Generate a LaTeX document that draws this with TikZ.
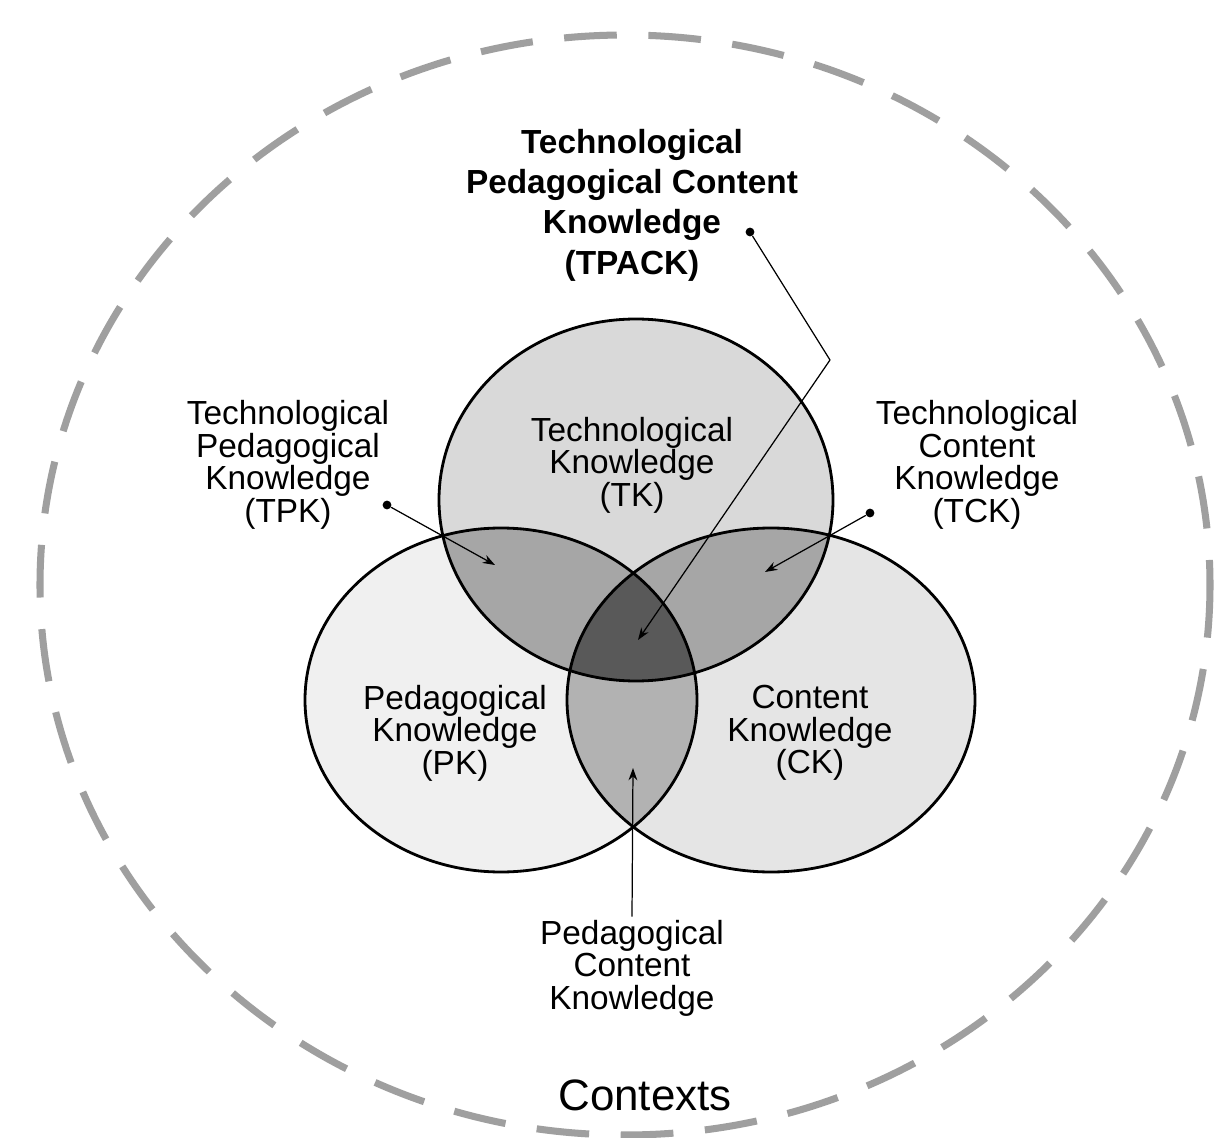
\documentclass[tikz,border=0pt]{standalone}
\usepackage{fontspec}
\setmainfont{Liberation Sans}
\usetikzlibrary{arrows.meta}
\begin{document}
\begin{tikzpicture}[x=0.02cm,y=-0.02cm,
 lbl/.style={align=center,font=\fontsize{19}{18.5}\selectfont,inner sep=0pt},
 ring/.style={draw=black,line width=1.6pt},
 lead/.style={line width=0.7pt,-{Stealth[length=7pt,width=5pt]}},
 dot/.style={circle,fill=black,inner sep=0pt,minimum size=5pt}]
\useasboundingbox (0,0) rectangle (1214,1138);
\fill[white] (0,0) rectangle (1214,1138);
\draw[gray!75,line width=4pt,dash pattern=on 30pt off 18pt] (625,585) ellipse [x radius=585, y radius=550];
\def\TK{(636,500) ellipse [x radius=197, y radius=181]}
\def\PK{(501,700) ellipse [x radius=196, y radius=172]}
\def\CK{(771,700) ellipse [x radius=204, y radius=172]}
\fill[black!15] \TK;
\fill[black!6] \PK;
\fill[black!10] \CK;
\begin{scope}\clip \TK; \fill[black!35] \PK; \fill[black!35] \CK; \end{scope}
\begin{scope}\clip \PK; \fill[black!30] \CK; \end{scope}
\begin{scope}\clip \TK; \clip \PK; \fill[black!65] \CK; \end{scope}
\draw[ring] \TK; \draw[ring] \PK; \draw[ring] \CK;
\node[lbl,font=\fontsize{19}{23}\selectfont\bfseries] (tpack) at (632,205) {Technological\\Pedagogical Content\\Knowledge\\(TPACK)};
\node[lbl] (tk) at (632,465) {Technological\\Knowledge\\(TK)};
\node[lbl] (tpk) at (288,465) {Technological\\Pedagogical\\Knowledge\\(TPK)};
\node[lbl] (tck) at (977,465) {Technological\\Content\\Knowledge\\(TCK)};
\node[lbl] (pk) at (455,733) {Pedagogical\\Knowledge\\(PK)};
\node[lbl] (ck) at (810,733) {Content\\Knowledge\\(CK)};
\node[lbl] (pck) at (632,968) {Pedagogical\\Content\\Knowledge};
\node[inner sep=0pt,font=\fontsize{25}{28}\selectfont] (ctx) at (645,1095) {Contexts};
\node[dot] (d1) at (750,232) {};
\node[dot] (d2) at (387,505) {};
\node[dot] (d3) at (870,513) {};
\coordinate (bend) at (830,360);
\coordinate (t1) at (638,640);
\coordinate (t2) at (495,565);
\coordinate (t3) at (765,572);
\coordinate (t4) at (633,768);
\draw[line width=0.7pt] (d1) -- (bend);
\draw[lead] (bend) -- (t1);
\draw[lead] (d2) -- (t2);
\draw[lead] (d3) -- (t3);
\draw[lead] (pck.north) ++(0,-3) -- (t4);
\end{tikzpicture}
\end{document}
